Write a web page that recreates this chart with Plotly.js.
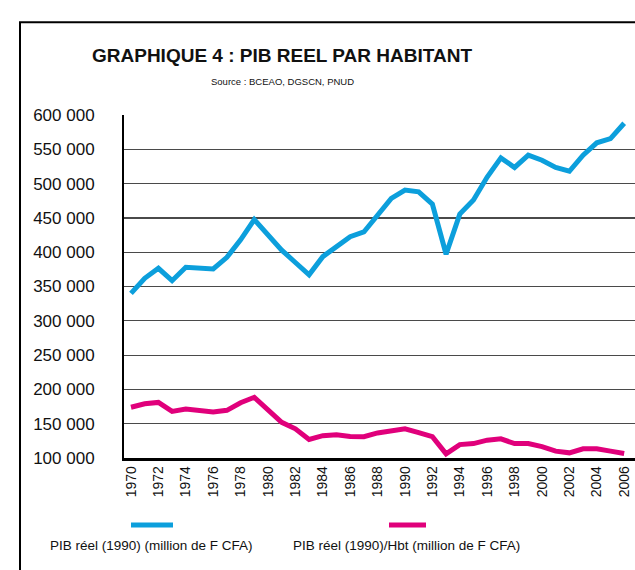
<!DOCTYPE html>
<html>
<head>
<meta charset="utf-8">
<script src="https://cdn.plot.ly/plotly-3.0.1.min.js"></script>
<style>
  body { margin: 0; background: #fff; }
  #plot { width: 635px; height: 570px; }
</style>
</head>
<body>
<div id="plot"></div>
<script>
document.addEventListener("DOMContentLoaded", function(event) {

  const years = [
    1970, 1971, 1972, 1973, 1974, 1975, 1976, 1977, 1978, 1979,
    1980, 1981, 1982, 1983, 1984, 1985, 1986, 1987, 1988, 1989,
    1990, 1991, 1992, 1993, 1994, 1995, 1996, 1997, 1998, 1999,
    2000, 2001, 2002, 2003, 2004, 2005, 2006
  ];

  // PIB réel (1990) (million de F CFA)
  const pibReel = [
    340000, 362000, 376500, 358500, 378000, 377500, 375500, 392500, 418000, 447500,
    426500, 403000, 385000, 367000, 393500, 409000, 422500, 429500, 454000, 478500,
    490500, 488000, 470000, 397000, 455500, 476000, 509500, 537500, 523500, 541500,
    534000, 523500, 518000, 541500, 559500, 565500, 588000
  ];

  // PIB réel (1990)/Hbt (million de F CFA)
  const pibHbt = [
    174000, 179000, 181000, 168000, 171500, 169500, 167000, 169500, 180500, 188500,
    170500, 152000, 142500, 127000, 132500, 134000, 131500, 131000, 136500, 139000,
    142500, 137000, 131000, 106000, 119500, 121000, 126000, 128000, 121000, 121000,
    116500, 110000, 107500, 113500, 113500, 110000, 106500
  ];

  const yTicks = [100000, 150000, 200000, 250000, 300000, 350000, 400000, 450000, 500000, 550000, 600000];
  const seriesNames = ['PIB réel (1990) (million de F CFA)', 'PIB réel (1990)/Hbt (million de F CFA)'];
  const colors = ['#0c9fdc', '#e0007b'];

  const font = '"Liberation Sans", Arial, sans-serif';

  const W = 635, H = 570;
  const M = {l: 124, r: 0, t: 115, b: 111.5};
  const pw = W - M.l - M.r, ph = H - M.t - M.b;
  // pixel -> paper helpers for decorations outside the plot area
  const px = (x) => (x - M.l) / pw;
  const py = (y) => (H - M.b - y) / ph;

  const trace1 = {
    x: years,
    y: pibReel,
    name: seriesNames[0],
    type: 'scatter',
    mode: 'lines',
    line: {color: colors[0], width: 5}
  };

  const trace2 = {
    x: years,
    y: pibHbt,
    name: seriesNames[1],
    type: 'scatter',
    mode: 'lines',
    line: {color: colors[1], width: 5}
  };

  const layout = {
    width: W,
    height: H,
    margin: M,
    showlegend: false,
    separators: '. ',
    paper_bgcolor: '#fff',
    plot_bgcolor: '#fff',
    title: {
      text: '<b>GRAPHIQUE 4 : PIB REEL PAR HABITANT</b>',
      font: {family: font, size: 19, color: '#111'},
      x: 282 / W,
      xanchor: 'center',
      y: 1 - 55 / H,
      yanchor: 'middle'
    },
    xaxis: {
      range: [1969.49, 2006.79],
      tick0: 1970,
      dtick: 2,
      tickangle: -90,
      ticks: '',
      showgrid: false,
      zeroline: false,
      showline: true,
      linecolor: '#000',
      linewidth: 2.5,
      tickfont: {family: font, size: 14, color: '#111'}
    },
    yaxis: {
      range: [100000, 600000],
      tickvals: yTicks,
      tickformat: ',d',
      ticks: '',
      ticklabelstandoff: 24,
      showgrid: true,
      gridcolor: '#4a4a4a',
      gridwidth: 1.2,
      zeroline: false,
      showline: true,
      linecolor: '#000',
      linewidth: 2,
      tickfont: {family: font, size: 17, color: '#111'}
    },
    shapes: [
      // outer frame (left and top edges visible)
      {type: 'line', xref: 'paper', yref: 'paper', x0: px(20), x1: px(20), y0: py(22), y1: py(575), line: {color: '#000', width: 2}},
      {type: 'line', xref: 'paper', yref: 'paper', x0: px(19), x1: px(640), y0: py(22), y1: py(22), line: {color: '#000', width: 2}},
      // legend keys
      {type: 'line', xref: 'paper', yref: 'paper', x0: px(131), x1: px(173), y0: py(525.5), y1: py(525.5), line: {color: colors[0], width: 5}},
      {type: 'line', xref: 'paper', yref: 'paper', x0: px(389), x1: px(426), y0: py(525.5), y1: py(525.5), line: {color: colors[1], width: 5}}
    ],
    annotations: [
      {text: 'Source : BCEAO, DGSCN, PNUD', xref: 'paper', yref: 'paper', x: px(282), y: py(81), xanchor: 'center', yanchor: 'middle', showarrow: false, font: {family: font, size: 9.5, color: '#111'}},
      {text: seriesNames[0], xref: 'paper', yref: 'paper', x: px(151.5), y: py(546), xanchor: 'center', yanchor: 'middle', showarrow: false, font: {family: font, size: 13.5, color: '#111'}},
      {text: seriesNames[1], xref: 'paper', yref: 'paper', x: px(406.5), y: py(546), xanchor: 'center', yanchor: 'middle', showarrow: false, font: {family: font, size: 13.5, color: '#111'}}
    ]
  };

  Plotly.newPlot('plot', [trace1, trace2], layout, {displayModeBar: false, staticPlot: true});
});
</script>
</body>
</html>
